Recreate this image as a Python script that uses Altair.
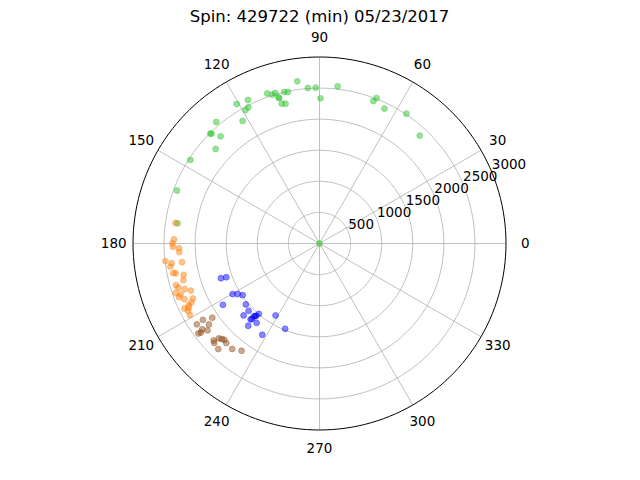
import altair as alt
import pandas as pd

title_text = "Spin: 429722 (min) 05/23/2017"

green_theta = [147.1, 137.7, 134.8, 134.5, 132.7, 130.35, 122.1, 120.7, 119.0, 117.6, 116.5,
               109.2, 107.6, 106.4, 105.7, 105.5, 105.1, 103.65, 103.1, 101.8, 97.8, 94.3,
               91.4, 89.6, 83.4, 69.3, 68.6, 64.3, 56.2, 47.1, 159.6, 171.9, 0.0]
green_r = [2474, 2259, 2492, 2478, 2346, 2564, 2327, 2610, 2454, 2472, 2579,
           2557, 2512, 2523, 2442, 2428, 2330, 2315, 2502, 2489, 2633, 2508,
           2508, 2335, 2545, 2450, 2513, 2408, 2514, 2369, 2446, 2305, 0]

orange_theta = [171.9, 178.4, 179.9, 181.3, 181.9, 183.5, 186.5, 187.6, 188.8, 187.7,
                191.4, 191.7, 193.0, 195.0, 196.2, 197.4, 200.1, 199.0, 200.15, 200.9,
                202.4, 203.5, 204.7, 205.2, 205.7, 206.2, 207.1, 208.9, 198.7]
orange_r = [2338, 2342, 2367, 2358, 2262, 2259, 2496, 2399, 2428, 2233,
            2398, 2363, 2243, 2267, 2405, 2380, 2202, 2448, 2380, 2420,
            2351, 2220, 2269, 2327, 2412, 2341, 2377, 2382, 2290]

blue_theta = [199.4, 199.9, 210.2, 211.7, 213.9, 212.4, 219.6, 223.5, 223.45, 228.1,
              228.0, 228.8, 229.2, 227.8, 231.6, 229.1, 238.6, 248.1, 237.9, 228.4]
blue_r = [1681, 1594, 1618, 1549, 1490, 1840, 1538, 1573, 1682, 1628,
          1578, 1546, 1494, 1649, 1629, 1751, 1356, 1479, 1733, 1560]

brown_theta = [214.7, 213.2, 213.4, 216.2, 216.2, 217.8, 216.6, 216.9, 222.5, 223.3,
               225.3, 223.4, 226.9, 226.2, 230.4, 234.0, 224.3]
brown_r = [2098, 2242, 2363, 2204, 2335, 2279, 2427, 2384, 2309, 2225,
           2178, 2330, 2194, 2353, 2203, 2133, 2200]

series_names = ["green", "orange", "blue", "brown"]
series_colors = ["#2ec42e", "#ff7f0e", "#0000ff", "#8b4513"]
series_opacity = [0.7, 0.65, 0.55, 0.7]

ring_radii = [500, 1000, 1500, 2000, 2500]
outer_radius = 3000
spoke_angles = list(range(0, 360, 30))
angle_labels = [str(a) for a in spoke_angles]
radial_labels = ["500", "1000", "1500", "2000", "2500", "3000"]
radial_label_r = [500, 1000, 1500, 2000, 2500, 3000]

# ---- build tables ----
rows = []
for name, th, rr in [("green", green_theta, green_r), ("orange", orange_theta, orange_r),
                     ("blue", blue_theta, blue_r), ("brown", brown_theta, brown_r)]:
    for t, r in zip(th, rr):
        rows.append({"series": name, "theta": t, "r": r})
pts = pd.DataFrame(rows)

ring_rows = []
for rad in ring_radii + [outer_radius]:
    for a in range(0, 361, 2):
        ring_rows.append({"ring": rad, "theta": a, "r": rad, "outer": rad == outer_radius})
rings = pd.DataFrame(ring_rows)

spoke_rows = []
for a in spoke_angles:
    spoke_rows.append({"spoke": a, "theta": a, "r": 0, "k": 0})
    spoke_rows.append({"spoke": a, "theta": a, "r": outer_radius, "k": 1})
spokes = pd.DataFrame(spoke_rows)

alab = pd.DataFrame({"theta": spoke_angles, "r": [3310] * len(spoke_angles), "label": angle_labels})
rlab = pd.DataFrame({"theta": [22.5] * len(radial_labels), "r": radial_label_r, "label": radial_labels})

W = 373
xs = alt.Scale(domain=[-3000, 3000], nice=False, zero=False)
ys = alt.Scale(domain=[-3000, 3000], nice=False, zero=False)

def polar(ch):
    return ch.transform_calculate(
        px="datum.r * cos(datum.theta * PI / 180)",
        py="datum.r * sin(datum.theta * PI / 180)",
    )

X = alt.X("px:Q", scale=xs, axis=None)
Y = alt.Y("py:Q", scale=ys, axis=None)

ring_layer = polar(alt.Chart(rings[~rings.outer]).mark_line(color="#b0b0b0", strokeWidth=0.8)).encode(
    x=X, y=Y, detail="ring:N", order="theta:Q")
spoke_layer = polar(alt.Chart(spokes).mark_line(color="#b0b0b0", strokeWidth=0.8)).encode(
    x=X, y=Y, detail="spoke:N", order="k:Q")
outer_layer = polar(alt.Chart(rings[rings.outer]).mark_line(color="black", strokeWidth=1)).encode(
    x=X, y=Y, detail="ring:N", order="theta:Q")

cscale = alt.Scale(domain=series_names, range=series_colors)
oscale = alt.Scale(domain=series_names, range=series_opacity)
point_layer = polar(alt.Chart(pts).mark_point(shape="circle", filled=True, size=34, strokeWidth=1)).encode(
    x=X, y=Y,
    fill=alt.Fill("series:N", scale=cscale, legend=None),
    stroke=alt.Stroke("series:N", scale=cscale, legend=None),
    fillOpacity=alt.FillOpacity("series:N", scale=oscale, legend=None),
    strokeOpacity=alt.StrokeOpacity("series:N", scale=oscale, legend=None),
)

alab_layer = polar(alt.Chart(alab).mark_text(font="DejaVu Sans", fontSize=13.5, color="black",
                                              align="center", baseline="middle")).encode(
    x=X, y=Y, text="label:N")
rlab_layer = polar(alt.Chart(rlab).mark_text(font="DejaVu Sans", fontSize=13.5, color="black",
                                              align="left", baseline="bottom")).encode(
    x=X, y=Y, text="label:N")

chart = alt.layer(ring_layer, spoke_layer, point_layer, outer_layer, alab_layer, rlab_layer).properties(
    width=W, height=W,
    title=alt.Title(title_text, font="DejaVu Sans", fontSize=16.5, fontWeight="normal",
                    anchor="middle", frame="group", offset=5, color="black"),
    autosize=alt.AutoSizeParams(type="none"),
    padding={"left": 125, "top": 49, "right": 126, "bottom": 40},
).configure_view(stroke=None)

chart.save("out.html", embed_options={"renderer": "svg", "actions": False})
